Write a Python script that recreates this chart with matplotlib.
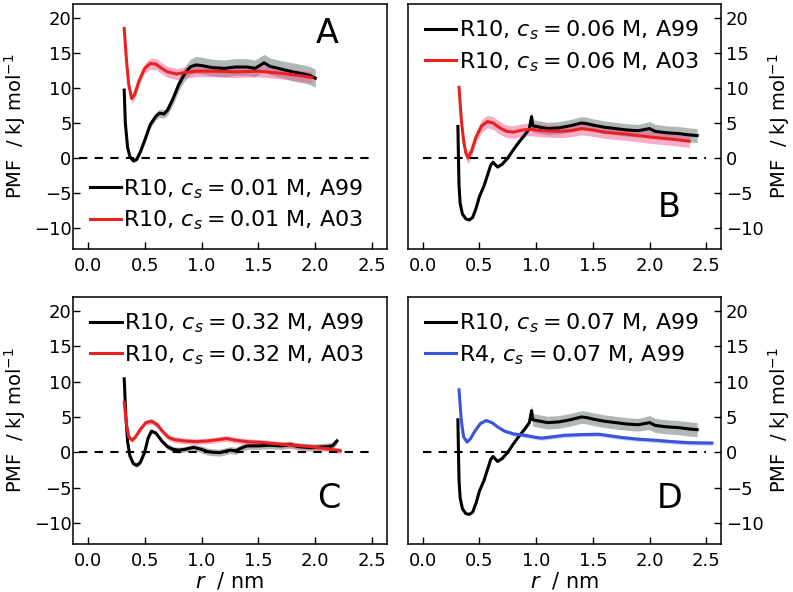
import numpy as np
import matplotlib
matplotlib.use("Agg")
import matplotlib.pyplot as plt

# --- panel A: R10, cs = 0.01 M ---
a_r_a99 = [0.32, 0.33, 0.35, 0.37, 0.40, 0.43, 0.46, 0.50, 0.55, 0.60, 0.63, 0.67, 0.70,
           0.75, 0.80, 0.85, 0.90, 0.95, 1.00, 1.10, 1.20, 1.30, 1.40, 1.47, 1.50, 1.55,
           1.60, 1.70, 1.80, 1.90, 1.95, 2.00]
a_pmf_a99 = [9.7, 5.0, 1.5, 0.2, -0.4, -0.2, 0.8, 2.5, 4.8, 6.0, 6.4, 6.3, 6.8,
             8.5, 10.5, 12.0, 13.0, 13.3, 13.2, 12.9, 12.8, 13.0, 13.0, 12.8, 13.1, 13.6,
             13.1, 12.7, 12.3, 12.0, 11.8, 11.4]
a_err_a99 = [0.2, 0.2, 0.3, 0.3, 0.3, 0.3, 0.3, 0.4, 0.5, 0.5, 0.6, 0.6, 0.7,
             0.8, 0.9, 1.0, 1.1, 1.2, 1.2, 1.2, 1.2, 1.2, 1.2, 1.2, 1.2, 1.2,
             1.2, 1.2, 1.3, 1.3, 1.3, 1.3]
a_r_a03 = [0.32, 0.34, 0.36, 0.385, 0.41, 0.45, 0.50, 0.55, 0.60, 0.65, 0.70, 0.78,
           0.85, 0.95, 1.10, 1.30, 1.50, 1.70, 1.85, 1.97]
a_pmf_a03 = [18.5, 14.0, 10.5, 8.5, 9.0, 11.0, 12.8, 13.5, 13.4, 12.8, 12.3, 12.0,
             12.2, 12.4, 12.4, 12.3, 12.4, 12.1, 11.8, 11.5]
a_err_a03 = [0.5, 0.6, 0.6, 0.7, 0.7, 0.7, 0.7, 0.8, 0.8, 0.8, 0.8, 0.8,
             0.8, 0.8, 0.8, 0.8, 0.8, 0.8, 0.8, 0.8]

# --- panel B: R10, cs = 0.06 M ---
b_r_a99 = [0.31, 0.315, 0.32, 0.33, 0.35, 0.38, 0.41, 0.44, 0.47, 0.50, 0.54, 0.57,
           0.60, 0.62, 0.66, 0.70, 0.75, 0.80, 0.85, 0.90, 0.94, 0.96, 0.97, 1.00,
           1.10, 1.20, 1.30, 1.40, 1.45, 1.50, 1.60, 1.70, 1.80, 1.90, 2.00, 2.05,
           2.15, 2.25, 2.35, 2.42]
b_pmf_a99 = [4.5, 0.0, -4.0, -6.5, -8.0, -8.7, -8.85, -8.5, -7.2, -5.5, -4.0, -2.5,
             -1.0, -0.6, -1.3, -0.9, 0.0, 1.2, 2.3, 3.3, 4.2, 5.9, 4.6, 4.5,
             4.2, 4.3, 4.6, 5.0, 4.9, 4.7, 4.4, 4.2, 4.0, 3.9, 4.2, 3.8,
             3.6, 3.5, 3.3, 3.2]
b_err_a99 = [0.1, 0.1, 0.1, 0.1, 0.1, 0.1, 0.1, 0.1, 0.1, 0.1, 0.1, 0.1,
             0.1, 0.1, 0.1, 0.1, 0.1, 0.1, 0.1, 0.2, 0.3, 0.8, 0.9, 0.9,
             0.9, 0.9, 0.9, 0.9, 0.9, 0.9, 0.9, 0.9, 0.9, 0.9, 1.0, 1.0,
             1.0, 1.0, 1.0, 1.0]
b_r_a03 = [0.32, 0.34, 0.36, 0.38, 0.40, 0.43, 0.47, 0.52, 0.57, 0.62, 0.68, 0.74,
           0.80, 0.88, 0.95, 1.05, 1.20, 1.30, 1.40, 1.50, 1.60, 1.80, 2.00, 2.20, 2.35]
b_pmf_a03 = [10.1, 5.5, 2.5, 0.7, 0.0, 1.0, 3.0, 4.6, 5.2, 5.0, 4.3, 3.8,
             3.7, 4.0, 4.1, 3.9, 3.8, 3.9, 4.2, 4.0, 3.7, 3.4, 3.0, 2.7, 2.4]
b_err_a03 = [0.4, 0.5, 0.6, 0.7, 0.8, 0.8, 0.8, 0.9, 0.9, 0.9, 0.9, 0.9,
             0.9, 0.9, 0.9, 0.9, 0.9, 0.9, 0.9, 0.9, 0.9, 0.9, 0.9, 0.9, 0.9]

# --- panel C: R10, cs = 0.32 M ---
c_r_a99 = [0.32, 0.335, 0.35, 0.37, 0.40, 0.43, 0.46, 0.50, 0.53, 0.56, 0.60, 0.65,
           0.70, 0.75, 0.80, 0.85, 0.93, 1.00, 1.05, 1.10, 1.16, 1.20, 1.25, 1.30,
           1.35, 1.40, 1.50, 1.60, 1.70, 1.78, 1.85, 1.96, 2.05, 2.10, 2.15, 2.19]
c_pmf_a99 = [10.4, 5.0, 1.5, -0.5, -1.6, -1.85, -1.5, 0.0, 2.0, 3.0, 2.7, 1.6,
             0.8, 0.4, 0.3, 0.4, 0.7, 0.4, 0.1, 0.0, -0.05, 0.1, 0.3, 0.2,
             0.6, 0.9, 0.9, 1.0, 0.9, 1.1, 0.8, 0.65, 0.75, 0.8, 0.9, 1.6]
c_err_a99 = [0.2, 0.2, 0.3, 0.3, 0.3, 0.3, 0.3, 0.3, 0.3, 0.3, 0.3, 0.3,
             0.4, 0.4, 0.4, 0.4, 0.4, 0.5, 0.5, 0.5, 0.5, 0.5, 0.5, 0.5,
             0.5, 0.5, 0.5, 0.5, 0.5, 0.5, 0.5, 0.5, 0.5, 0.5, 0.5, 0.5]
c_r_a03 = [0.32, 0.34, 0.36, 0.39, 0.42, 0.46, 0.51, 0.56, 0.61, 0.66, 0.71, 0.76,
           0.85, 0.95, 1.05, 1.15, 1.22, 1.30, 1.40, 1.52, 1.65, 1.80, 1.96, 2.10, 2.22]
c_pmf_a03 = [7.1, 4.0, 2.2, 1.7, 2.2, 3.2, 4.2, 4.4, 3.9, 2.9, 2.1, 1.8,
             1.6, 1.5, 1.6, 1.8, 1.95, 1.7, 1.5, 1.4, 1.2, 1.0, 0.8, 0.5, 0.2]
c_err_a03 = [0.3, 0.3, 0.3, 0.3, 0.3, 0.3, 0.3, 0.4, 0.4, 0.4, 0.4, 0.4,
             0.4, 0.4, 0.4, 0.4, 0.4, 0.4, 0.4, 0.4, 0.4, 0.4, 0.4, 0.4, 0.4]

# --- panel D: cs = 0.07 M, A99 ---
d_r_r10 = [0.31, 0.315, 0.32, 0.33, 0.35, 0.38, 0.41, 0.44, 0.47, 0.50, 0.54, 0.57,
           0.60, 0.62, 0.66, 0.70, 0.75, 0.80, 0.85, 0.90, 0.94, 0.96, 0.97, 1.00,
           1.10, 1.20, 1.30, 1.40, 1.45, 1.50, 1.60, 1.70, 1.80, 1.90, 2.00, 2.05,
           2.15, 2.25, 2.35, 2.42]
d_pmf_r10 = [4.6, 0.0, -4.0, -6.5, -8.0, -8.7, -8.8, -8.5, -7.2, -5.5, -4.0, -2.5,
             -1.0, -0.6, -1.3, -0.9, 0.0, 1.2, 2.3, 3.3, 4.2, 5.9, 4.6, 4.5,
             4.2, 4.3, 4.6, 5.0, 4.9, 4.7, 4.4, 4.2, 4.0, 3.9, 4.2, 3.8,
             3.6, 3.5, 3.3, 3.2]
d_err_r10 = [0.1, 0.1, 0.1, 0.1, 0.1, 0.1, 0.1, 0.1, 0.1, 0.1, 0.1, 0.1,
             0.1, 0.1, 0.1, 0.1, 0.1, 0.1, 0.1, 0.2, 0.3, 0.8, 0.9, 0.9,
             0.9, 0.9, 0.9, 0.9, 0.9, 0.9, 0.9, 0.9, 0.9, 0.9, 1.0, 1.0,
             1.0, 1.0, 1.0, 1.0]
d_r_r4 = [0.32, 0.34, 0.36, 0.39, 0.42, 0.46, 0.51, 0.56, 0.61, 0.66, 0.72, 0.80,
          0.90, 1.00, 1.05, 1.15, 1.25, 1.40, 1.55, 1.62, 1.75, 1.90, 2.05, 2.20,
          2.35, 2.55]
d_pmf_r4 = [8.85, 4.5, 2.2, 1.45, 1.9, 3.0, 4.1, 4.5, 4.2, 3.6, 3.0, 2.6,
            2.4, 2.1, 2.0, 2.2, 2.4, 2.5, 2.55, 2.4, 2.1, 1.85, 1.7, 1.5,
            1.35, 1.3]
d_err_r4 = [0.2, 0.2, 0.2, 0.2, 0.2, 0.2, 0.2, 0.2, 0.2, 0.2, 0.2, 0.3,
            0.3, 0.3, 0.3, 0.3, 0.3, 0.3, 0.3, 0.3, 0.3, 0.3, 0.3, 0.3,
            0.3, 0.3]

BLACK = 'black'
RED = '#e8231f'
BLUE = '#3a55dd'
BAND = {BLACK: ('#6f7f7b', 0.55), RED: ('#ec5a92', 0.5), BLUE: ('#7f8cf0', 0.45)}

plt.rcParams['font.family'] = 'DejaVu Sans'
plt.rcParams['mathtext.fontset'] = 'dejavusans'

fig = plt.figure(figsize=(7.93, 5.92), dpi=100)
W, H = 793.0, 592.0

def make_ax(l, t, r, b):
    return fig.add_axes([l / W, 1 - b / H, (r - l) / W, (b - t) / H])

axA = make_ax(73, 4, 387, 249)
axB = make_ax(408, 4, 721, 249)
axC = make_ax(73, 297, 387, 544)
axD = make_ax(408, 297, 721, 544)


def curve(ax, r, v, e, color, label):
    r = np.array(r); v = np.array(v); e = np.array(e)
    fc, al = BAND[color]
    ax.fill_between(r, v - e, v + e, color=fc, alpha=al, lw=0)
    ax.plot(r, v, color=color, lw=2.2, label=label)


def style(ax, letter, lpos, right=False, dash_start=-0.08):
    ax.hlines(0, dash_start, 2.5, colors='black', linestyles=(0, (4, 3.5)), lw=1.5)
    ax.set_xlim(-0.13, 2.63)
    ax.set_ylim(-13, 22)
    ax.set_xticks([0.0, 0.5, 1.0, 1.5, 2.0, 2.5])
    ax.set_yticks([-10, -5, 0, 5, 10, 15, 20])
    ax.tick_params(direction='in', length=5, width=1, labelsize=13,
                   top=False, left=not right, right=right,
                   labelleft=not right, labelright=right)
    ax.tick_params(axis='x', pad=6)
    ax.tick_params(axis='y', pad=3.5 if right else 1)
    for s in ax.spines.values():
        s.set_linewidth(1.1)
    ax.text(lpos[0], lpos[1], letter, transform=ax.transAxes, fontsize=24,
            ha='center', va='center')
    if right:
        ax.yaxis.set_label_position('right')
    ax.set_ylabel('PMF  / kJ mol$^{-1}$', fontsize=14, labelpad=1.5 if right else 4)


def legend(ax, anchor, loc='upper left'):
    ax.legend(loc=loc, bbox_to_anchor=anchor, frameon=False, fontsize=16,
              handlelength=1.4, handletextpad=0.1, labelspacing=0.35, borderpad=0)


curve(axA, a_r_a99, a_pmf_a99, a_err_a99, BLACK, 'R10, $c_s = 0.01$ M, A99')
curve(axA, a_r_a03, a_pmf_a03, a_err_a03, RED, 'R10, $c_s = 0.01$ M, A03')
style(axA, 'A', (0.81, 0.88))
legend(axA, (0.018, 0.024), loc='lower left')

curve(axB, b_r_a99, b_pmf_a99, b_err_a99, BLACK, 'R10, $c_s = 0.06$ M, A99')
curve(axB, b_r_a03, b_pmf_a03, b_err_a03, RED, 'R10, $c_s = 0.06$ M, A03')
style(axB, 'B', (0.836, 0.17), right=True, dash_start=0.0)
legend(axB, (0.02, 0.985))

curve(axC, c_r_a99, c_pmf_a99, c_err_a99, BLACK, 'R10, $c_s = 0.32$ M, A99')
curve(axC, c_r_a03, c_pmf_a03, c_err_a03, RED, 'R10, $c_s = 0.32$ M, A03')
style(axC, 'C', (0.813, 0.183))
legend(axC, (0.02, 0.985))

curve(axD, d_r_r10, d_pmf_r10, d_err_r10, BLACK, 'R10, $c_s = 0.07$ M, A99')
curve(axD, d_r_r4, d_pmf_r4, d_err_r4, BLUE, 'R4, $c_s = 0.07$ M, A99')
style(axD, 'D', (0.836, 0.183), right=True, dash_start=0.0)
legend(axD, (0.02, 0.985))

for ax in (axC, axD):
    ax.set_xlabel('$r$  / nm', fontsize=15, labelpad=0)

fig.savefig('out.png', dpi=100)
